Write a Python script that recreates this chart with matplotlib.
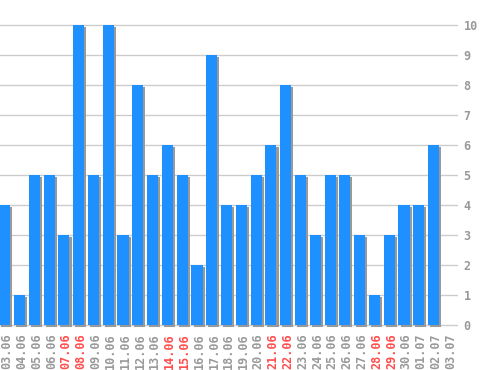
import matplotlib
matplotlib.use("Agg")
import matplotlib.pyplot as plt
import matplotlib.patheffects as pe
import numpy as np

days = ["03.06", "04.06", "05.06", "06.06", "07.06", "08.06", "09.06", "10.06",
        "11.06", "12.06", "13.06", "14.06", "15.06", "16.06", "17.06", "18.06",
        "19.06", "20.06", "21.06", "22.06", "23.06", "24.06", "25.06", "26.06",
        "27.06", "28.06", "29.06", "30.06", "01.07", "02.07", "03.07"]
counts = [4, 1, 5, 5, 3, 10, 5, 10, 3, 8, 5, 6, 5, 2, 9, 4, 4, 5, 6, 8,
          5, 3, 5, 5, 3, 1, 3, 4, 4, 6, 0]
weekend = ["07.06", "08.06", "14.06", "15.06", "21.06", "22.06", "28.06", "29.06"]

fig = plt.figure(figsize=(4.98, 3.70), dpi=100)
ax = fig.add_axes([0.0, (370 - 328) / 370, 458 / 498, 318 / 370])

x = np.arange(len(days))
bars = ax.bar(x, counts, width=0.75, color="#1e90ff", zorder=3)
for b in bars:
    b.set_path_effects([pe.SimplePatchShadow(offset=(1.5, -1.5), shadow_rgbFace="#999999", alpha=1.0),
                        pe.Normal()])

ax.set_xlim(-0.32, 30.65)
ax.set_ylim(-0.1, 10.5)
ax.yaxis.tick_right()
ax.set_yticks(range(0, 11))
ax.yaxis.grid(True, color="#cccccc", linewidth=1, zorder=0)
ax.set_axisbelow(True)
for s in ax.spines.values():
    s.set_visible(False)
ax.tick_params(axis="y", length=0, pad=4, labelsize=8.5, labelcolor="#999999")
ax.tick_params(axis="x", length=0, pad=4)
for lbl in ax.get_yticklabels():
    lbl.set_family("DejaVu Sans Mono")
    lbl.set_fontweight("bold")

ax.set_xticks(x + 0.15)
ax.set_xticklabels(days, rotation=90, family="DejaVu Sans Mono", fontsize=8.5, fontweight="bold")
for lbl, d in zip(ax.get_xticklabels(), days):
    lbl.set_color("#ff4d4d" if d in weekend else "#999999")

fig.savefig("out.png", dpi=100)
